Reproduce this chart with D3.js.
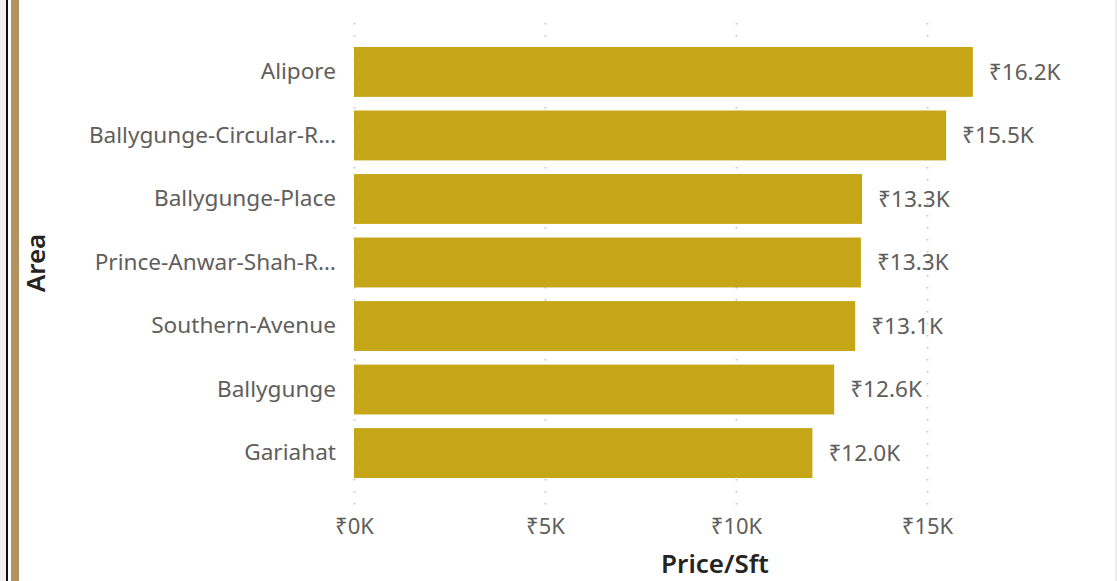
<!DOCTYPE html>
<html>
<head>
<meta charset="utf-8">
<script src="https://cdn.jsdelivr.net/npm/d3@7"></script>
<style>
  html, body { margin: 0; padding: 0; background: #ffffff; }
  svg { display: block; }
</style>
</head>
<body>
<svg id="chart" width="1117" height="581"></svg>
<script>
const categories = ["Alipore", "Ballygunge-Circular-R…", "Ballygunge-Place", "Prince-Anwar-Shah-R…", "Southern-Avenue", "Ballygunge", "Gariahat"];
const values = [16200, 15500, 13300, 13270, 13120, 12570, 12000];
const valueLabels = ["₹16.2K", "₹15.5K", "₹13.3K", "₹13.3K", "₹13.1K", "₹12.6K", "₹12.0K"];
const tickValues = [0, 5000, 10000, 15000];
const tickLabels = ["₹0K", "₹5K", "₹10K", "₹15K"];
const xTitle = "Price/Sft";
const yTitle = "Area";

const W = 1117, H = 581;
const FONT = "'Noto Sans', 'Open Sans', sans-serif";
const svg = d3.select("#chart");

// frame
svg.append("rect").attr("x", 0).attr("y", 0).attr("width", W).attr("height", H).attr("fill", "#ffffff");
svg.append("rect").attr("x", 0).attr("y", 0).attr("width", 6).attr("height", H).attr("fill", "#f3f2f1");
svg.append("rect").attr("x", 6).attr("y", 0).attr("width", 2).attr("height", H).attr("fill", "#111111");
svg.append("rect").attr("x", 11).attr("y", 0).attr("width", 8).attr("height", H).attr("fill", "#b39262");
svg.append("rect").attr("x", 1115).attr("y", 0).attr("width", 2).attr("height", H).attr("fill", "#efeeec");

const x = d3.scaleLinear().domain([0, 5000]).range([354, 545]);
const y = d3.scaleBand().domain(categories).range([40.2, 484.8]).paddingInner(0.2147).paddingOuter(0.107);

// gridlines
const grid = svg.append("g");
grid.selectAll("line").data(tickValues).join("line")
  .attr("x1", d => Math.round(x(d)) + 0.5).attr("x2", d => Math.round(x(d)) + 0.5)
  .attr("y1", 23).attr("y2", 506)
  .attr("stroke", "#c8c8c8").attr("stroke-width", 2)
  .attr("stroke-dasharray", "1.5,10.5");

// bars
svg.append("g").selectAll("rect").data(categories).join("rect")
  .attr("x", x(0))
  .attr("y", d => y(d))
  .attr("width", (d, i) => x(values[i]) - x(0))
  .attr("height", y.bandwidth())
  .attr("fill", "#c5a616");

// x axis
const xAxis = d3.axisBottom(x).tickValues(tickValues).tickFormat((d, i) => tickLabels[i]).tickSize(0).tickPadding(0);
const gx = svg.append("g").attr("transform", "translate(0,518)").call(xAxis);
gx.select(".domain").remove();
gx.selectAll("text").attr("font-family", FONT).attr("font-size", 22).attr("fill", "#605e5c").attr("dy", "0.71em");

// y axis
const yAxis = d3.axisLeft(y).tickSize(0).tickPadding(0);
const gy = svg.append("g").attr("transform", "translate(336,0)").call(yAxis);
gy.select(".domain").remove();
gy.selectAll("text").attr("font-family", FONT).attr("font-size", 22.6).attr("fill", "#605e5c");

// data labels
svg.append("g").selectAll("text").data(categories).join("text")
  .attr("x", (d, i) => x(values[i]) + 16)
  .attr("y", d => y(d) + y.bandwidth() / 2)
  .attr("dy", "0.35em")
  .attr("font-family", FONT).attr("font-size", 22.6).attr("fill", "#605e5c")
  .text((d, i) => valueLabels[i]);

// axis titles
svg.append("text").attr("x", 715).attr("y", 573).attr("text-anchor", "middle")
  .attr("font-family", FONT).attr("font-size", 26).attr("font-weight", 600).attr("fill", "#252423")
  .text(xTitle);
svg.append("text").attr("transform", "translate(45,263) rotate(-90)").attr("text-anchor", "middle")
  .attr("font-family", FONT).attr("font-size", 26).attr("font-weight", 600).attr("fill", "#252423")
  .text(yTitle);
</script>
</body>
</html>
